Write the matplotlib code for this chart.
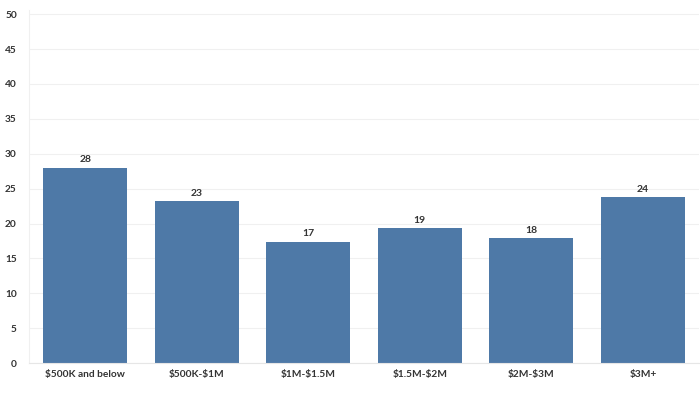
import matplotlib
matplotlib.use("Agg")
import matplotlib.pyplot as plt

categories = ['$500K and below', '$500K-$1M', '$1M-$1.5M', '$1.5M-$2M', '$2M-$3M', '$3M+']
values = [28.0, 23.2, 17.4, 19.3, 17.9, 23.8]
value_labels = ['28', '23', '17', '19', '18', '24']
yticks = [0, 5, 10, 15, 20, 25, 30, 35, 40, 45, 50]

plt.rcParams['font.family'] = ['Lato', 'DejaVu Sans']
plt.rcParams['text.parse_math'] = False

fig = plt.figure(figsize=(7, 3.99), dpi=100)
ax = fig.add_axes([0.042, 0.09, 0.956, 0.885])

x = range(len(categories))
bars = ax.bar(x, values, width=0.755, color='#4e79a7', zorder=2)
for b, lab in zip(bars, value_labels):
    ax.text(b.get_x() + b.get_width() / 2, b.get_height() + 0.5, lab,
            ha='center', va='bottom', fontsize=7.5, fontweight='bold', color='#333333', zorder=3)

ax.set_xlim(-0.5, len(categories) - 0.5)
ax.set_ylim(0, 50.6)
ax.set_yticks(yticks)
ax.set_xticks(list(x))
ax.set_xticklabels(categories, fontweight='bold')
for t in ax.get_yticklabels():
    t.set_fontweight('bold')
ax.tick_params(axis='both', length=0, labelsize=7.3, colors='#333333')
ax.tick_params(axis='y', pad=9)
ax.tick_params(axis='x', pad=5)
ax.grid(axis='y', color='#f0f0f0', linewidth=0.8, zorder=0)
for s in ['top', 'right']:
    ax.spines[s].set_visible(False)
ax.spines['left'].set_color('#f0f0f0')
ax.spines['left'].set_linewidth(0.8)
ax.spines['bottom'].set_color('#e6e6e6')
ax.spines['bottom'].set_linewidth(0.8)

fig.savefig('out.png', dpi=100)
